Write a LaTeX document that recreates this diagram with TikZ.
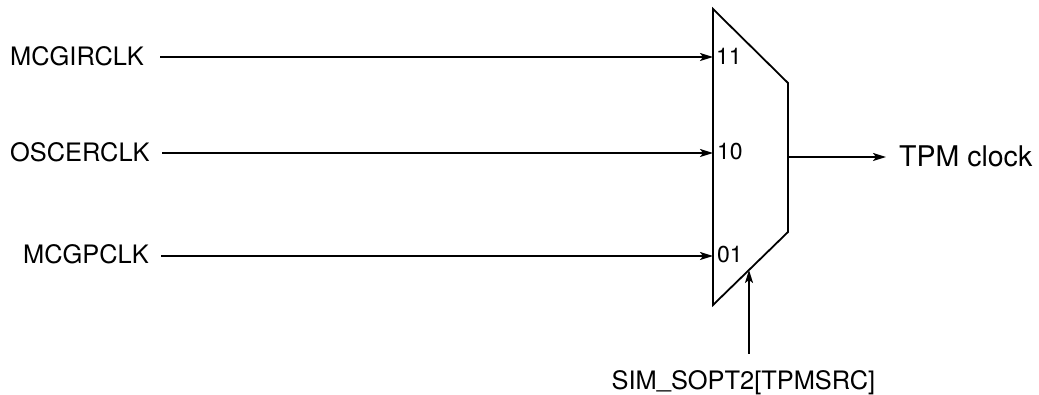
\documentclass[tikz,border=0pt]{standalone}
\usepackage{fontspec}
\setmainfont{TeX Gyre Heros}
\usetikzlibrary{arrows.meta}
\begin{document}
\begin{tikzpicture}[x=1pt,y=-1pt,
  wire/.style={line width=1.8pt,-{Stealth[length=13pt,width=8pt,inset=3pt]}},
  lbl/.style={inner sep=0pt,font=\fontsize{25.4}{28}\selectfont},
  sel/.style={inner sep=0pt,font=\fontsize{23}{26}\selectfont}]
\useasboundingbox (0,0) rectangle (1039,395);
% mux
\draw[line width=1.8pt,line join=miter] (713,9) coordinate (tl) -- (788,83) coordinate (tr)
  -- (788,232) coordinate (br) -- (713,305) coordinate (bl) -- cycle;
\coordinate (in11) at (713,57);
\coordinate (in10) at (713,153);
\coordinate (in01) at (713,256);
\coordinate (out) at (788,157);
\coordinate (selin) at (749,270);
% input labels
\node[lbl,anchor=base west] (l1) at (10,66) {MCGIRCLK};
\node[lbl,anchor=base west] (l2) at (10,162) {OSCERCLK};
\node[lbl,anchor=base west] (l3) at (23,264) {MCGPCLK};
\coordinate (s1) at (160,57);
\coordinate (s2) at (162,153);
\coordinate (s3) at (161,256);
\draw[wire] (s1) -- (in11);
\draw[wire] (s2) -- (in10);
\draw[wire] (s3) -- (in01);
% mux input labels
\node[sel,anchor=base west] (m11) at (716,65) {11};
\node[sel,anchor=base west] (m10) at (717,160) {10};
\node[sel,anchor=base west] (m01) at (717,263) {01};
% output
\node[inner sep=0pt,anchor=base west,font=\fontsize{28.5}{32}\selectfont] (tpm) at (899,167) {TPM clock};
\coordinate (oend) at (886,157);
\draw[wire] (out) -- (oend);
% select
\node[lbl,anchor=base] (sim) at (743.5,389) {SIM\raisebox{0.06em}{\_}SOPT2[TPMSRC]};
\coordinate (sbot) at (749,354);
\draw[wire] (sbot) -- (selin);
\end{tikzpicture}
\end{document}
